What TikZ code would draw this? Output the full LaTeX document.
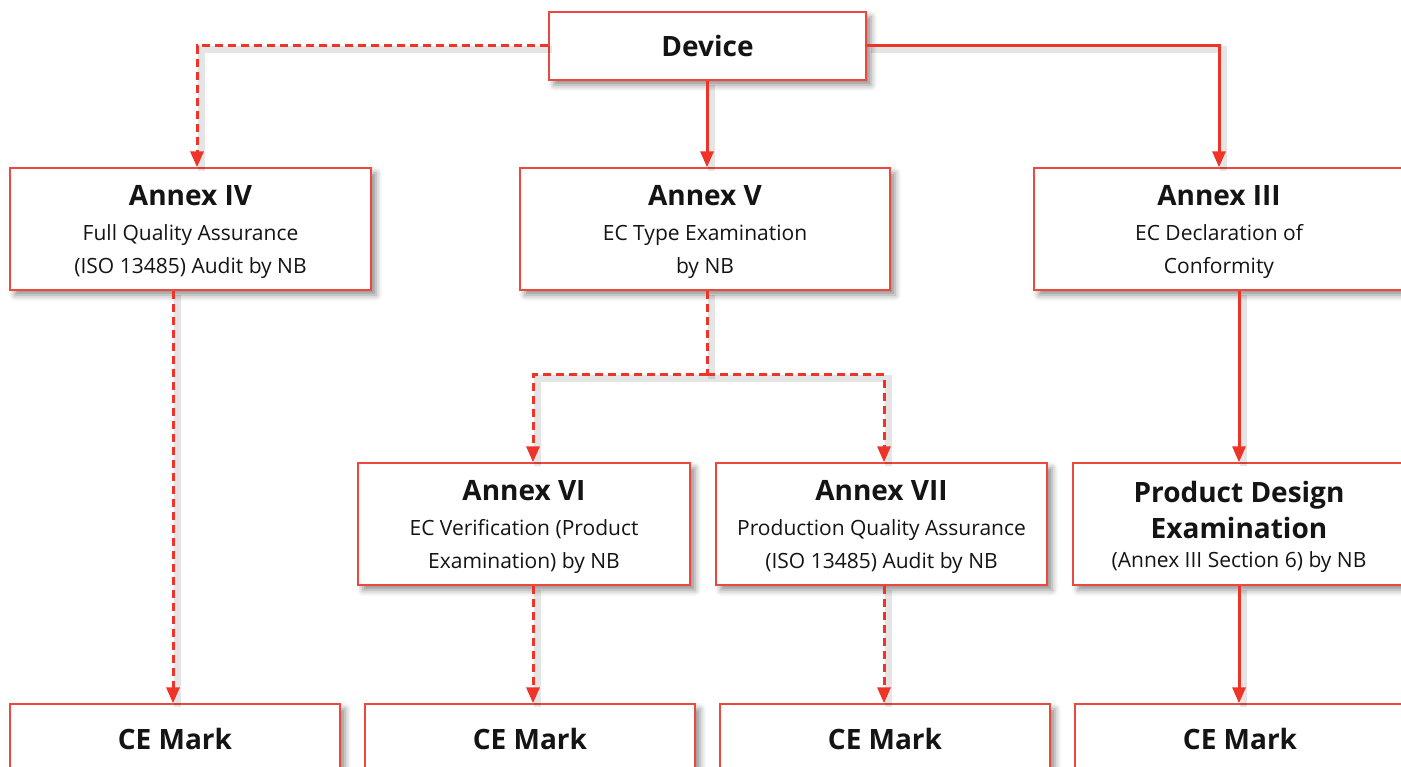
\documentclass[tikz,border=0pt]{standalone}
\usepackage{fontspec}
\setmainfont{Open Sans}
\usetikzlibrary{arrows.meta,shadows.blur}
\definecolor{lred}{RGB}{238,52,40}
\definecolor{bred}{RGB}{236,72,62}
\definecolor{txt}{RGB}{20,20,20}
\newcommand{\ttl}[1]{{\fontsize{28}{35}\selectfont\bfseries #1}}
\newcommand{\tstrut}{\rule{0pt}{26.5pt}}
\begin{document}
\begin{tikzpicture}[x=1pt,y=-1pt,
  box/.style={draw=bred, line width=1.4pt, fill=white, inner sep=0pt, align=center,
    text=txt, font=\fontsize{21}{33}\selectfont,
    blur shadow={shadow xshift=5pt, shadow yshift=-5pt, shadow blur radius=6pt, shadow opacity=45}},
  lshadow/.style={preaction={draw=black, draw opacity=0.10, line width=7pt, solid, -, transform canvas={shift={(4pt,-4pt)}}}},
  conn/.style={lshadow, draw=lred, line width=3pt, -{Triangle[length=16pt,width=13pt]}},
  dconn/.style={conn, dash pattern=on 8pt off 5pt}]
\useasboundingbox (0,0) rectangle (1401,767);
% junction
\coordinate (j) at (707,375);
% boxes
\node[box, minimum width=317pt, minimum height=68pt] (dev) at (707.5,46) {\ttl{Device}};
\node[box, minimum width=361pt, minimum height=122pt] (a4) at (190.5,229) {\tstrut\ttl{Annex IV}\\[2pt]Full Quality Assurance\\(ISO 13485) Audit by NB};
\node[box, minimum width=370pt, minimum height=122pt] (a5) at (705,229) {\tstrut\ttl{Annex V}\\[2pt]EC Type Examination\\by NB};
\node[box, minimum width=370pt, minimum height=122pt] (a3) at (1219,229) {\tstrut\ttl{Annex III}\\[2pt]EC Declaration of\\Conformity};
\node[box, minimum width=332pt, minimum height=122pt] (a6) at (524,524) {\tstrut\ttl{Annex VI}\\[2pt]EC Verification (Product\\Examination) by NB};
\node[box, minimum width=331pt, minimum height=122pt] (a7) at (881.5,524) {\tstrut\ttl{Annex VII}\\[2pt]Production Quality Assurance\\(ISO 13485) Audit by NB};
\node[box, minimum width=332pt, minimum height=122pt] (pd) at (1239,524) {\tstrut\ttl{Product Design}\\[3pt]\ttl{Examination}\\[-4pt](Annex III Section 6) by NB};
\node[box, minimum width=330pt, minimum height=70pt] (ce1) at (175,739) {\ttl{CE Mark}};
\node[box, minimum width=330pt, minimum height=70pt] (ce2) at (530,739) {\ttl{CE Mark}};
\node[box, minimum width=330pt, minimum height=70pt] (ce3) at (885,739) {\ttl{CE Mark}};
\node[box, minimum width=330pt, minimum height=70pt] (ce4) at (1240,739) {\ttl{CE Mark}};
% connectors
\draw[dconn] (dev.west) -| ([xshift=6.5pt]a4.north);
\draw[conn] (dev.east) -| (a3.north);
\draw[conn] (dev.south -| j) -- (a5.north -| j);
\draw[dconn] ([xshift=-17.5pt]a4.south) -- ([xshift=-17.5pt]a4.south |- ce1.north);
\draw[lshadow, draw=lred, line width=3pt, dash pattern=on 8pt off 5pt] (a5.south -| j) -- (j);
\draw[dconn] (j) -| ([xshift=9pt]a6.north);
\draw[dconn] (j) -| ([xshift=2.5pt]a7.north);
\draw[dconn] ([xshift=9pt]a6.south) -- ([xshift=9pt]a6.south |- ce2.north);
\draw[dconn] ([xshift=2.5pt]a7.south) -- ([xshift=2.5pt]a7.south |- ce3.north);
\draw[conn] ([xshift=20pt]a3.south) -- (pd.north);
\draw[conn] (pd.south) -- (pd.south |- ce4.north);
\end{tikzpicture}
\end{document}
